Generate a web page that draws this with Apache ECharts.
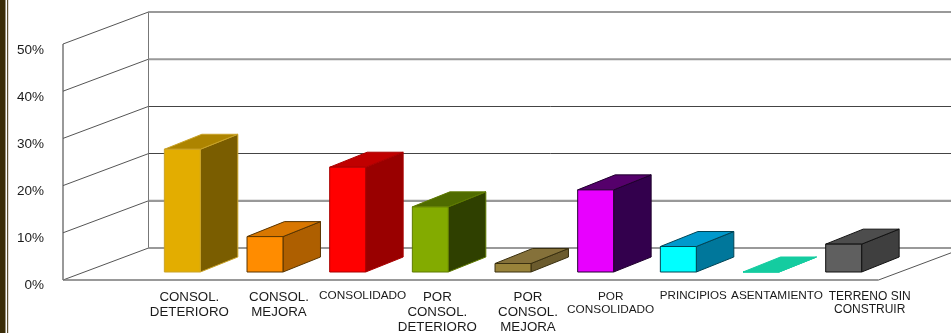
<!DOCTYPE html>
<html>
<head>
<meta charset="utf-8">
<style>html,body{margin:0;padding:0;background:#fff}#c{width:951px;height:333px}</style>
<script src="https://cdn.jsdelivr.net/npm/echarts@6/dist/echarts.min.js"></script>
</head>
<body>
<div id="c"></div>
<script>
const categories = ['CONSOL.\nDETERIORO','CONSOL.\nMEJORA','CONSOLIDADO','POR\nCONSOL.\nDETERIORO','POR\nCONSOL.\nMEJORA','POR\nCONSOLIDADO','PRINCIPIOS','ASENTAMIENTO','TERRENO SIN\nCONSTRUIR'];
const values = [26, 7.5, 22.2, 13.8, 1.8, 17.4, 5.4, 0, 5.9];
const yTicks = [0, 10, 20, 30, 40, 50];

const frontColors = ['#E3AD00','#FF8C00','#FF0000','#83AB00','#99833A','#E800FF','#00FFFF','#14CCA0','#5F5F5F'];
const topColors   = ['#AD8400','#D97700','#C00000','#4F6B00','#85713A','#55006B','#0099CC','#14CCA0','#4D4D4D'];
const sideColors  = ['#7A5D00','#AE5F00','#990000','#2F4000','#6B5B2D','#33004D','#00779B','#14CCA0','#3F3F3F'];
const edgeColors  = ['#C9A227','#5A3500','#AA0000','#5E7A00','#3A3010','#20002E','#004455','#14CCA0','#111111'];
const labelSizes  = [13.3,13.3,11.8,13.3,13.3,11.8,11.6,11.8,12];
const labelLines  = [15,15,12,15,15,13,12,12,13];
const labelShifts = [7,14,15,7,15,15,15,16,26];
const softGridTicks = [0, 10, 40, 50];

const floorDepth = [85.5, -32];
const barDepth = [37.5, -15];
const barRatio = 0.435;

const chart = echarts.init(document.getElementById('c'), null, {renderer:'canvas'});

function renderWall(params, api){
  const v = api.value(0);
  const b = api.coord([0, v]);
  const fx = b[0]-floorDepth[0], fy = b[1]-floorDepth[1];
  const children = [{type:'line', shape:{x1:fx,y1:fy,x2:b[0],y2:b[1]}, style:{stroke:'#555',lineWidth:1}}];
  if (softGridTicks.indexOf(v) >= 0) {
    children.push({type:'line', shape:{x1:b[0],y1:b[1],x2:b[0]+815.5,y2:b[1]}, style:{stroke:'#999',lineWidth:2}});
  }
  if (v === 0) {
    const rx = fx + 815.5;
    children.push({type:'line', shape:{x1:fx,y1:fy,x2:rx,y2:fy}, style:{stroke:'#777',lineWidth:1.5}});
    children.push({type:'line', shape:{x1:rx,y1:fy,x2:rx+floorDepth[0],y2:fy+floorDepth[1]}, style:{stroke:'#555',lineWidth:1}});
    const t = api.coord([0, 50]);
    children.push({type:'line', shape:{x1:fx,y1:fy,x2:fx,y2:t[1]-floorDepth[1]}, style:{stroke:'#777',lineWidth:1.5}});
  }
  return {type:'group', children};
}

function renderBar(params, api){
  const i = params.dataIndex;
  const c = api.coord([api.value(0), api.value(1)]);
  const base = api.coord([api.value(0), 0]);
  const w = api.size([1,0])[0]*barRatio;
  const x0 = c[0]-w/2, x1 = c[0]+w/2, yT = c[1], yB = base[1];
  const dx = barDepth[0], dy = barDepth[1];
  const edge = edgeColors[i];
  const sw = 1;
  return {type:'group', children:[
    {type:'polygon', shape:{points:[[x1,yT],[x1+dx,yT+dy],[x1+dx,yB+dy],[x1,yB]]}, style:{fill:sideColors[i],stroke:edge,lineWidth:sw}},
    {type:'polygon', shape:{points:[[x0,yT],[x0+dx,yT+dy],[x1+dx,yT+dy],[x1,yT]]}, style:{fill:topColors[i],stroke:edge,lineWidth:sw}},
    {type:'rect', shape:{x:x0,y:yT,width:w,height:yB-yT}, style:{fill:frontColors[i],stroke:edge,lineWidth:sw}}
  ]};
}

chart.setOption({
  animation:false,
  backgroundColor:'#fff',
  textStyle:{fontFamily:'"Liberation Sans", Arial, sans-serif'},
  graphic:[
    {type:'rect', shape:{x:0,y:0,width:5.5,height:333}, style:{fill:'#3A2C08'}},
    {type:'rect', shape:{x:7,y:0,width:1.2,height:333}, style:{fill:'#5A4E30'}}
  ],
  grid:[
    {left:148.5, top:12, width:815.5, height:236, outerBoundsMode:'none'},
    {left:141, top:36, width:744, height:236, outerBoundsMode:'none'},
    {left:63, top:50.5, width:815.5, height:235, outerBoundsMode:'none'}
  ],
  xAxis:[
    {gridIndex:0, type:'value', min:0, max:1, show:false},
    {gridIndex:1, type:'category', data:categories.map((c,i)=>({
        value:c,
        textStyle:{fontSize:labelSizes[i], lineHeight:labelLines[i], padding:[0,0,0,labelShifts[i]*2]}
      })),
      axisLine:{show:false}, axisTick:{show:false}, splitLine:{show:false},
      axisLabel:{interval:0, margin:18, color:'#1a1a1a', fontSize:13, lineHeight:15, hideOverlap:false, overflow:'none'}},
    {gridIndex:2, type:'value', min:0, max:1, show:false}
  ],
  yAxis:[
    {gridIndex:0, type:'value', min:0, max:50, interval:10,
      axisLine:{show:true, lineStyle:{color:'#777',width:1}}, axisTick:{show:false}, axisLabel:{show:false},
      splitLine:{show:true, lineStyle:{color:['#999','#999','#444','#444','#999','#999'], width:1}}},
    {gridIndex:1, type:'value', min:0, max:50, show:false},
    {gridIndex:2, type:'value', min:0, max:50, interval:10,
      axisLine:{show:false}, axisTick:{show:false}, splitLine:{show:false},
      axisLabel:{margin:19, color:'#1a1a1a', fontSize:13.5, formatter:'{value}%'}}
  ],
  series:[
    {type:'custom', name:'walls', xAxisIndex:0, yAxisIndex:0, z:1, clip:false, silent:true,
      encode:{y:0}, data:yTicks.map(v=>[v]), renderItem:renderWall},
    {type:'custom', name:'bars', xAxisIndex:1, yAxisIndex:1, z:3, clip:false,
      encode:{x:0,y:1}, data:values.map((v,i)=>[i,v]), renderItem:renderBar}
  ]
});
</script>
</body>
</html>
